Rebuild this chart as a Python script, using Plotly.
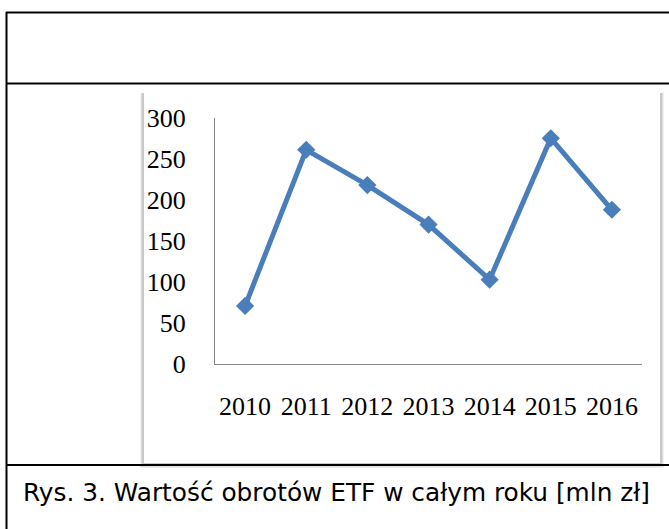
import plotly.graph_objects as go

years = ["2010", "2011", "2012", "2013", "2014", "2015", "2016"]
values = [71, 261, 218, 170, 103, 275, 188]
y_ticks = [0, 50, 100, 150, 200, 250, 300]
caption = "Rys. 3. Wartość obrotów ETF w całym roku [mln zł]"

W, H = 669, 529
def px(x):
    return x / W
def py(y):
    return 1 - y / H

fig = go.Figure()
fig.add_trace(go.Scatter(
    x=years, y=values, mode="lines+markers",
    line=dict(color="#4a7ebb", width=5),
    marker=dict(symbol="diamond", size=14, color="#4a7ebb"),
    cliponaxis=False, showlegend=False,
))

shapes = []
# chart box shadow
for i, c in enumerate(["#f0f0f0", "#dedede", "#c8c8c8"]):
    d = 3 - i
    shapes.append(dict(type="rect", xref="paper", yref="paper",
                       x0=px(142 - d + 1), x1=px(661 + d), y0=py(465 + d), y1=py(93),
                       fillcolor=c, line=dict(width=0), layer="below"))
shapes.append(dict(type="rect", xref="paper", yref="paper",
                   x0=px(144), x1=px(660), y0=py(463), y1=py(92),
                   fillcolor="white", line=dict(width=0), layer="below"))
# table borders
blk = dict(color="black", width=2)
shapes += [
    dict(type="line", xref="paper", yref="paper", x0=px(6.5), x1=px(6.5), y0=py(12), y1=py(529), line=blk),
    dict(type="line", xref="paper", yref="paper", x0=px(6), x1=1, y0=py(12.5), y1=py(12.5), line=blk),
    dict(type="line", xref="paper", yref="paper", x0=px(6), x1=1, y0=py(83.5), y1=py(83.5), line=blk),
    dict(type="line", xref="paper", yref="paper", x0=px(6), x1=1, y0=py(465), y1=py(465), line=blk),
]

fig.update_layout(
    template="none",
    width=W, height=H,
    margin=dict(l=0, r=0, t=0, b=0, pad=0, autoexpand=False),
    paper_bgcolor="white", plot_bgcolor="rgba(0,0,0,0)",
    shapes=shapes,
    annotations=[dict(text=caption, xref="paper", yref="paper", x=px(21), y=py(492),
                      xanchor="left", yanchor="middle", showarrow=False,
                      font=dict(family="DejaVu Sans", size=24.8, color="black"))],
    xaxis=dict(domain=[px(215), px(642)], type="category", automargin=False,
               showline=True, linecolor="#868686", linewidth=1,
               showgrid=False, zeroline=False, ticks="", ticklabelstandoff=18,
               tickfont=dict(family="Liberation Serif", size=26, color="black")),
    yaxis=dict(domain=[py(364.3), py(117.7)], range=[0, 300], automargin=False,
               tickvals=y_ticks, showline=True, linecolor="#868686", linewidth=1,
               showgrid=False, zeroline=False, ticks="", ticklabelstandoff=23,
               tickfont=dict(family="Liberation Serif", size=26, color="black")),
)

fig.write_html("out.html", config={"displayModeBar": False},
               post_script="document.body.style.margin='0';document.body.style.overflow='hidden';")
